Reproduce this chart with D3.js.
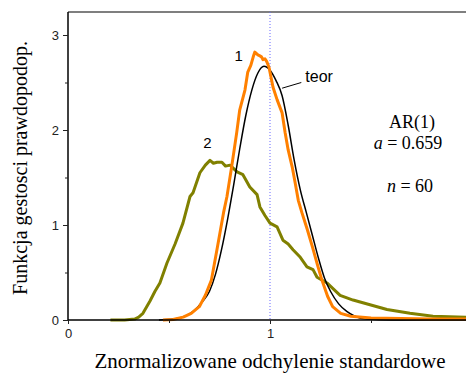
<!DOCTYPE html>
<html><head><meta charset="utf-8">
<script src="https://cdn.jsdelivr.net/npm/d3@7"></script>
<style>html,body{margin:0;padding:0;background:#fff;overflow:hidden}</style>
</head><body>
<script>
// ---- data ----
const xTicks = [0, 1];
const xMinorTicks = [0.5, 1.5];
const yTicks = [0, 1, 2, 3];
const yMinorTicks = [0.5, 1.5, 2.5];
const xTitle = "Znormalizowane odchylenie standardowe";
const yTitle = "Funkcja gestosci prawdopodop.";

const teorX = [0.45,0.52,0.58,0.62,0.66,0.70,0.73,0.76,0.79,0.82,0.85,0.88,0.91,0.94,0.97,1.00,1.03,1.06,1.09,1.12,1.15,1.18,1.21,1.24,1.27,1.30,1.34,1.38,1.42,1.48,1.60,2.0];
const teorY = [0,0.01,0.04,0.09,0.18,0.30,0.48,0.74,1.06,1.42,1.80,2.15,2.42,2.60,2.67,2.63,2.52,2.36,2.05,1.68,1.37,1.13,0.89,0.65,0.44,0.30,0.17,0.09,0.04,0.01,0,0];

const s1X = [0.47,0.52,0.57,0.61,0.65,0.68,0.71,0.74,0.77,0.787,0.81,0.835,0.85,0.876,0.89,0.905,0.917,0.925,0.94,0.95,0.958,0.965,0.975,0.984,0.995,1.015,1.035,1.06,1.075,1.09,1.11,1.125,1.14,1.158,1.185,1.21,1.235,1.257,1.285,1.31,1.35,1.40,1.50,1.65,1.80,2.0];
const s1Y = [0,0.005,0.03,0.07,0.14,0.26,0.42,0.77,1.13,1.30,1.61,1.97,2.21,2.42,2.61,2.68,2.77,2.82,2.79,2.78,2.77,2.74,2.75,2.72,2.66,2.45,2.32,2.18,1.97,1.79,1.61,1.44,1.26,1.13,0.95,0.77,0.58,0.42,0.25,0.14,0.07,0.04,0.02,0.015,0.01,0.01];

const s2X = [0.21,0.28,0.33,0.35,0.371,0.406,0.43,0.455,0.49,0.53,0.569,0.604,0.619,0.653,0.68,0.703,0.72,0.738,0.762,0.78,0.802,0.837,0.866,0.90,0.936,0.95,0.975,1.0,1.035,1.064,1.09,1.114,1.15,1.183,1.213,1.233,1.282,1.347,1.411,1.495,1.579,1.693,1.807,1.97,2.0];
const s2Y = [0,0,0.01,0.03,0.07,0.20,0.30,0.39,0.60,0.80,1.02,1.30,1.34,1.55,1.63,1.68,1.65,1.66,1.66,1.62,1.63,1.56,1.53,1.40,1.32,1.19,1.10,1.02,0.98,0.84,0.80,0.74,0.66,0.56,0.53,0.45,0.39,0.26,0.21,0.16,0.11,0.07,0.04,0.03,0.03];

// ---- layout ----
const W = 466, H = 375;
const svg = d3.select("body").append("svg").attr("width", W).attr("height", H);
const x = d3.scaleLinear().domain([0, 2]).range([68, 472]);
const y = d3.scaleLinear().domain([0, 3]).range([320, 35]);
const yTop = y(3.242);

// top frame line
svg.append("line").attr("x1", 68).attr("x2", W).attr("y1", yTop).attr("y2", yTop)
  .attr("stroke", "#555").attr("stroke-width", 1.5);

// vertical dotted line at 1
svg.append("line").attr("x1", x(1)).attr("x2", x(1)).attr("y1", yTop).attr("y2", y(0))
  .attr("stroke", "#6666ff").attr("stroke-width", 1).attr("stroke-dasharray", "1,2");

// lines
const mk = (xs, ys) => xs.map((v, i) => [v, ys[i]]);
const smooth = d3.line().x(d => x(d[0])).y(d => y(d[1])).curve(d3.curveMonotoneX);
const lin = d3.line().x(d => x(d[0])).y(d => y(d[1]));

svg.append("path").attr("d", lin(mk(s2X, s2Y))).attr("fill", "none")
  .attr("stroke", "#808000").attr("stroke-width", 3).attr("stroke-linejoin", "round");
svg.append("path").attr("d", smooth(mk(teorX, teorY))).attr("fill", "none")
  .attr("stroke", "#000").attr("stroke-width", 1.5);
svg.append("path").attr("d", lin(mk(s1X, s1Y))).attr("fill", "none")
  .attr("stroke", "#ff8000").attr("stroke-width", 3).attr("stroke-linejoin", "round");

// axes
const fontSans = "'Liberation Sans', Arial, sans-serif";
const fontSerif = "'Liberation Serif', 'Times New Roman', serif";

const yAxis = svg.append("g").attr("transform", "translate(68,0)")
  .call(d3.axisLeft(y).tickValues(yTicks).tickSize(5).tickPadding(4).tickFormat(d3.format("d")));
svg.append("g").attr("transform", "translate(68,0)")
  .call(d3.axisLeft(y).tickValues(yMinorTicks).tickSize(3).tickFormat(""))
  .call(g => g.select(".domain").remove());
yAxis.select(".domain").attr("d", `M0,${y(0)}V${yTop}`).attr("stroke-width", 1.5);

const xAxis = svg.append("g").attr("transform", `translate(0,${y(0)})`)
  .call(d3.axisBottom(x).tickValues(xTicks).tickSize(4).tickPadding(5).tickFormat(d3.format("d")));
svg.append("g").attr("transform", `translate(0,${y(0)})`)
  .call(d3.axisBottom(x).tickValues(xMinorTicks).tickSize(3).tickFormat(""))
  .call(g => g.select(".domain").remove());
xAxis.select(".domain").attr("d", `M68,0H${W}`).attr("stroke-width", 1.5);

svg.selectAll(".tick text").attr("font-family", fontSans).attr("font-size", 13).attr("fill", "#222");
svg.selectAll(".tick line").attr("stroke", "#222");

// titles
svg.append("text").attr("x", 270).attr("y", 368).attr("text-anchor", "middle")
  .attr("font-family", fontSerif).attr("font-size", 21).text(xTitle);
svg.append("text").attr("transform", "translate(27,168) rotate(-90)").attr("text-anchor", "middle")
  .attr("font-family", fontSerif).attr("font-size", 20).text(yTitle);

// annotations
svg.append("text").attr("x", x(0.845)).attr("y", y(2.73)).attr("text-anchor", "middle")
  .attr("font-family", fontSans).attr("font-size", 15).text("1");
svg.append("text").attr("x", x(0.69)).attr("y", y(1.81)).attr("text-anchor", "middle")
  .attr("font-family", fontSans).attr("font-size", 15).text("2");
svg.append("text").attr("x", x(1.175)).attr("y", y(2.51)).attr("text-anchor", "start")
  .attr("font-family", fontSans).attr("font-size", 16).text("teor");
svg.append("line").attr("x1", x(1.06)).attr("y1", y(2.44)).attr("x2", x(1.155)).attr("y2", y(2.5))
  .attr("stroke", "#000").attr("stroke-width", 1);

const ann = svg.append("g").attr("font-family", fontSerif).attr("font-size", 18).attr("text-anchor", "middle");
ann.append("text").attr("x", 412).attr("y", 128).text("AR(1)");
const t2 = ann.append("text").attr("x", 408).attr("y", 149);
t2.append("tspan").attr("font-style", "italic").text("a");
t2.append("tspan").text(" = 0.659");
const t3 = ann.append("text").attr("x", 410).attr("y", 192);
t3.append("tspan").attr("font-style", "italic").text("n");
t3.append("tspan").text(" = 60");
</script>
</body></html>
